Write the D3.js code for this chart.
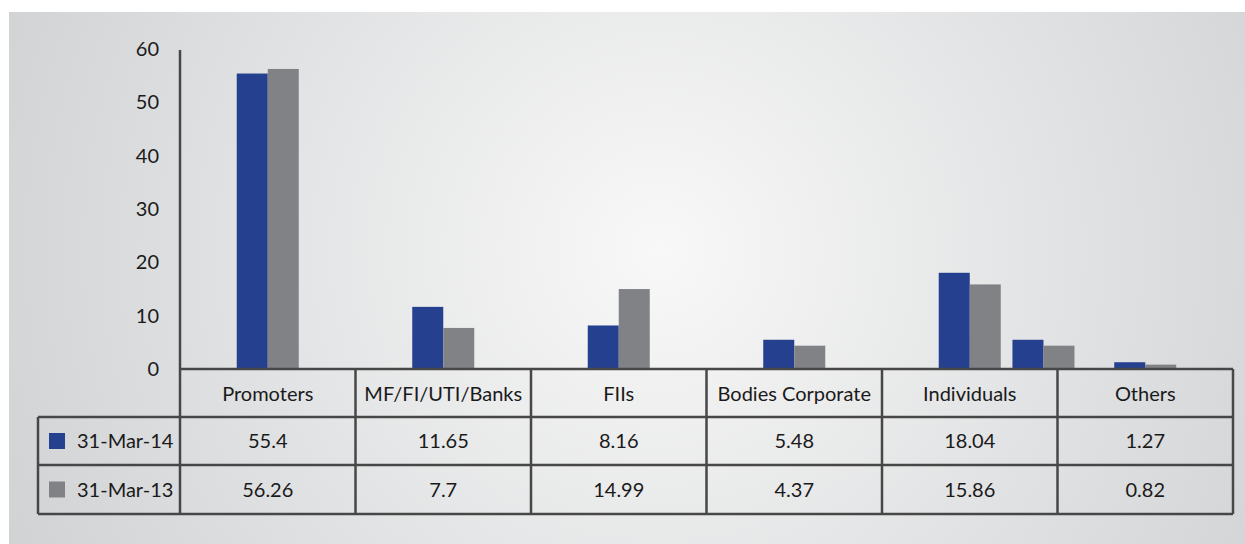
<!DOCTYPE html>
<html>
<head>
<meta charset="utf-8">
<script src="https://cdn.jsdelivr.net/npm/d3@7"></script>
<style>
  html, body { margin: 0; padding: 0; background: #fff; }
  svg { display: block; font-family: Lato, "Open Sans", sans-serif; }
</style>
</head>
<body>
<div id="chart"></div>
<script>
// chart data
const categories = ["Promoters", "MF/FI/UTI/Banks", "FIIs", "Bodies Corporate", "Individuals", "Others"]
const seriesNames = ["31-Mar-14", "31-Mar-13"]
const mar14 = [55.4, 11.65, 8.16, 5.48, 18.04, 1.27]
const mar13 = [56.26, 7.7, 14.99, 4.37, 15.86, 0.82]
const yTicks = [0, 10, 20, 30, 40, 50, 60]
// the original artwork repeats the Bodies Corporate pair beside Individuals
const strayPair = [5.48, 4.37]

const width = 1245
const height = 544
const colors = ["#24408e", "#818286"]
const lineColor = "#474747"
const fontSize = 20

const svg = d3.select("#chart").append("svg")
    .attr("width", width)
    .attr("height", height)

// background panel with soft radial light
const defs = svg.append("defs")
const grad = defs.append("radialGradient")
    .attr("id", "bg")
    .attr("gradientUnits", "userSpaceOnUse")
    .attr("cx", 660).attr("cy", 250).attr("r", 720)
grad.append("stop").attr("offset", "0").attr("stop-color", "#f8f8f8")
grad.append("stop").attr("offset", "0.55").attr("stop-color", "#e2e3e4")
grad.append("stop").attr("offset", "1").attr("stop-color", "#d1d2d4")

svg.append("rect")
    .attr("x", 9).attr("y", 12)
    .attr("width", width - 9).attr("height", height - 12)
    .attr("fill", "url(#bg)")

// scales
const x = d3.scaleBand().domain(categories).range([180, 1233])
const xSub = d3.scaleBand().domain(seriesNames).range([0, x.bandwidth()]).paddingOuter(1.83)
const y = d3.scaleLinear().domain([0, 60]).range([369, 49])

const rows = [mar14, mar13]
const data = categories.map((c, i) => ({ cat: c, vals: rows.map(r => r[i]) }))

// bars
const groups = svg.append("g").selectAll("g")
    .data(data)
    .join("g")
    .attr("transform", d => `translate(${x(d.cat)},0)`)

groups.selectAll("rect")
    .data(d => d.vals.map((v, j) => ({ key: seriesNames[j], v })))
    .join("rect")
    .attr("x", d => xSub(d.key))
    .attr("y", d => y(d.v))
    .attr("width", xSub.bandwidth())
    .attr("height", d => y(0) - y(d.v))
    .attr("fill", (d, j) => colors[j])

// stray duplicate pair
svg.append("g")
    .attr("transform", `translate(${x("Individuals") + x.bandwidth() * 0.42},0)`)
    .selectAll("rect")
    .data(strayPair)
    .join("rect")
    .attr("x", (d, j) => xSub(seriesNames[j]))
    .attr("y", d => y(d))
    .attr("width", xSub.bandwidth())
    .attr("height", d => y(0) - y(d))
    .attr("fill", (d, j) => colors[j])

// y axis
const yAxis = d3.axisLeft(y).tickValues(yTicks).tickSize(0).tickPadding(21)
const ga = svg.append("g")
    .attr("transform", "translate(180,0)")
    .call(yAxis)
ga.select(".domain").remove()
ga.selectAll("text")
    .attr("font-size", fontSize)
    .attr("font-family", "Lato, 'Open Sans', sans-serif")
    .attr("fill", "#1a1a1a")

svg.append("line")
    .attr("x1", 180).attr("x2", 180)
    .attr("y1", y(60) + 1).attr("y2", y(0))
    .attr("stroke", lineColor).attr("stroke-width", 2.5)

// data table
const rowTop = [y(0), 417, 465]
const rowH = [48, 48, 49]
const tableBottom = 514
const tableLeft = 38
const tbl = svg.append("g")
    .attr("fill", "none")
    .attr("stroke", lineColor)
    .attr("stroke-width", 2.5)

// horizontal rules
tbl.append("line").attr("x1", 180).attr("x2", 1233).attr("y1", rowTop[0]).attr("y2", rowTop[0])
;[rowTop[1], rowTop[2], tableBottom].forEach(yy => {
    tbl.append("line").attr("x1", tableLeft).attr("x2", 1233).attr("y1", yy).attr("y2", yy)
})
// vertical rules
tbl.append("line").attr("x1", tableLeft).attr("x2", tableLeft).attr("y1", rowTop[1]).attr("y2", tableBottom)
categories.forEach(c => {
    tbl.append("line").attr("x1", x(c)).attr("x2", x(c)).attr("y1", rowTop[0]).attr("y2", tableBottom)
})
tbl.append("line").attr("x1", 1233).attr("x2", 1233).attr("y1", rowTop[0]).attr("y2", tableBottom)

// header labels
svg.append("g")
    .attr("font-size", fontSize)
    .attr("text-anchor", "middle")
    .attr("fill", "#1a1a1a")
    .selectAll("text")
    .data(categories)
    .join("text")
    .attr("x", c => x(c) + x.bandwidth() / 2)
    .attr("y", rowTop[0] + rowH[0] / 2 + 8)
    .text(c => c)

// value rows
rows.forEach((r, i) => {
    const cy = rowTop[i + 1] + rowH[i + 1] / 2
    svg.append("g")
        .attr("font-size", fontSize)
        .attr("text-anchor", "middle")
        .attr("fill", "#1a1a1a")
        .selectAll("text")
        .data(r)
        .join("text")
        .attr("x", (d, k) => x(categories[k]) + x.bandwidth() / 2)
        .attr("y", cy + 7)
        .text(d => d)

    svg.append("rect")
        .attr("x", 49).attr("y", cy - 8)
        .attr("width", 16).attr("height", 16)
        .attr("fill", colors[i])
    svg.append("text")
        .attr("x", 77).attr("y", cy + 7)
        .attr("font-size", fontSize)
        .attr("fill", "#1a1a1a")
        .text(seriesNames[i])
})
</script>
</body>
</html>
